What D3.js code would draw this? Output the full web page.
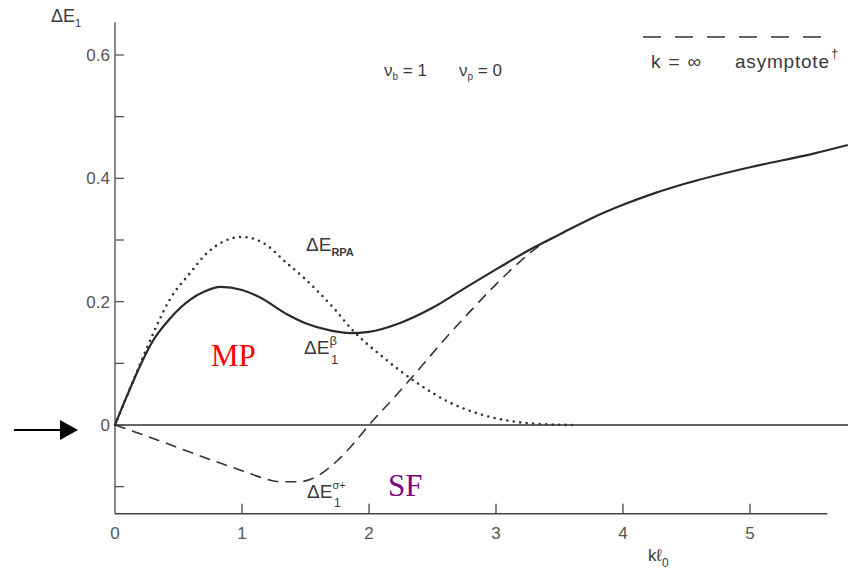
<!DOCTYPE html>
<html>
<head>
<meta charset="utf-8">
<script src="https://cdn.jsdelivr.net/npm/d3@7"></script>
<style>
  html, body { margin: 0; padding: 0; background: #fff; }
  svg { display: block; font-family: "Liberation Sans", "DejaVu Sans", sans-serif; }
</style>
</head>
<body>
<svg id="chart" width="848" height="572"></svg>
<script>
// ---- data ----
const kTotal = [0, 0.1, 0.2, 0.3, 0.43, 0.59, 0.7, 0.83, 1.0, 1.14, 1.35, 1.5, 1.7, 1.85, 2.0, 2.24, 2.5, 2.77, 3.03, 3.29, 3.5, 3.75, 4.0, 4.25, 4.5, 5.0, 5.5, 5.77];
const eTotal = [0, 0.05, 0.097, 0.137, 0.172, 0.203, 0.216, 0.224, 0.219, 0.207, 0.18, 0.165, 0.153, 0.149, 0.151, 0.165, 0.19, 0.224, 0.256, 0.287, 0.309, 0.335, 0.357, 0.376, 0.392, 0.418, 0.44, 0.454];

const kRPA = [0, 0.1, 0.2, 0.3, 0.43, 0.59, 0.72, 0.85, 1.0, 1.17, 1.35, 1.48, 1.72, 1.87, 2.11, 2.38, 2.64, 2.9, 3.16, 3.4, 3.6];
const eRPA = [0, 0.05, 0.1, 0.148, 0.203, 0.246, 0.278, 0.297, 0.305, 0.295, 0.263, 0.24, 0.19, 0.154, 0.11, 0.068, 0.036, 0.016, 0.005, 0.001, 0];

const kSigma = [0, 0.25, 0.5, 0.75, 1.0, 1.15, 1.3, 1.45, 1.6, 1.75, 1.9, 2.0, 2.2, 2.4, 2.6, 2.8, 3.0, 3.2, 3.35, 3.5];
const eSigma = [0, -0.018, -0.037, -0.056, -0.074, -0.085, -0.092, -0.092, -0.082, -0.058, -0.025, 0, 0.045, 0.092, 0.14, 0.185, 0.228, 0.267, 0.292, 0.309];

const xTicks = [0, 1, 2, 3, 4, 5];
const yMajorTicks = [0, 0.2, 0.4, 0.6];
const yMinorTicks = [-0.1, 0.1, 0.3, 0.5];
const yTickLabels = ["0", "0.2", "0.4", "0.6"];

// ---- scales ----
const svg = d3.select("#chart");
const x = d3.scaleLinear().domain([0, 1]).range([115, 242]);
const y = d3.scaleLinear().domain([0, 0.6]).range([425, 55]);

const ink = "#2a2a2a";
const txt = "#3a3a3a";

// axes
const yTop = 0.653, yBottom = -0.144, xEnd = 5.61;
svg.append("line").attr("x1", x(0)).attr("x2", x(0)).attr("y1", y(yTop)).attr("y2", y(yBottom))
  .attr("stroke", "#555").attr("stroke-width", 1.4);
svg.append("line").attr("x1", x(0)).attr("x2", x(xEnd)).attr("y1", y(yBottom)).attr("y2", y(yBottom))
  .attr("stroke", "#444").attr("stroke-width", 1.6);
// zero line
svg.append("line").attr("x1", x(0)).attr("x2", 848).attr("y1", y(0)).attr("y2", y(0))
  .attr("stroke", "#333").attr("stroke-width", 1.5);

// y ticks
svg.selectAll(".ymaj").data(yMajorTicks).enter().append("line")
  .attr("x1", x(0)).attr("x2", x(0) + 9).attr("y1", d => y(d)).attr("y2", d => y(d))
  .attr("stroke", "#555").attr("stroke-width", 1.3);
svg.selectAll(".ymin").data(yMinorTicks).enter().append("line")
  .attr("x1", x(0)).attr("x2", x(0) + 9).attr("y1", d => y(d)).attr("y2", d => y(d))
  .attr("stroke", "#555").attr("stroke-width", 1.3);
svg.selectAll(".ylab").data(yMajorTicks).enter().append("text")
  .attr("x", x(0) - 5).attr("y", d => y(d) + 6).attr("text-anchor", "end")
  .attr("font-size", 17).attr("fill", "#555").text((d, i) => yTickLabels[i]);

// x ticks
svg.selectAll(".xt").data(xTicks.filter(d => d > 0)).enter().append("line")
  .attr("x1", d => x(d)).attr("x2", d => x(d)).attr("y1", y(yBottom)).attr("y2", y(yBottom) - 10)
  .attr("stroke", "#444").attr("stroke-width", 1.3);
svg.selectAll(".xlab").data(xTicks).enter().append("text")
  .attr("x", d => x(d)).attr("y", y(yBottom) + 25).attr("text-anchor", "middle")
  .attr("font-size", 17).attr("fill", "#555").text(d => d);

// curves
const line = d3.line().x(d => x(d[0])).y(d => y(d[1])).curve(d3.curveMonotoneX);
const zip = (a, b) => a.map((v, i) => [v, b[i]]);

svg.append("path").datum(zip(kRPA, eRPA)).attr("d", line)
  .attr("fill", "none").attr("stroke", "#333").attr("stroke-width", 2.6)
  .attr("stroke-linecap", "round").attr("stroke-dasharray", "0,6.5");
svg.append("path").datum(zip(kSigma, eSigma)).attr("d", line)
  .attr("fill", "none").attr("stroke", "#333").attr("stroke-width", 1.6)
  .attr("stroke-dasharray", "11,7");
svg.append("path").datum(zip(kTotal, eTotal)).attr("d", line)
  .attr("fill", "none").attr("stroke", ink).attr("stroke-width", 2.2);

// axis title ΔE1
const t1 = svg.append("text").attr("x", 51).attr("y", 22).attr("font-size", 18).attr("fill", txt);
t1.append("tspan").text("ΔE");
t1.append("tspan").attr("font-size", 11).attr("dy", 5).text("1");

// x title k l0
const t2 = svg.append("text").attr("x", 648).attr("y", 561).attr("font-size", 17).attr("fill", txt);
t2.append("tspan").text("kℓ");
t2.append("tspan").attr("font-size", 12).attr("dy", 6).text("0");

// parameters
const p1 = svg.append("text").attr("x", 384).attr("y", 76).attr("font-size", 17).attr("fill", txt);
p1.append("tspan").text("ν");
p1.append("tspan").attr("font-size", 10).attr("dy", 4).text("b");
p1.append("tspan").attr("dy", -4).text(" = 1");
const p2 = svg.append("text").attr("x", 459).attr("y", 76).attr("font-size", 17).attr("fill", txt);
p2.append("tspan").text("ν");
p2.append("tspan").attr("font-size", 10).attr("dy", 4).text("p");
p2.append("tspan").attr("dy", -4).text(" = 0");

// legend
svg.append("line").attr("x1", 643).attr("x2", 833).attr("y1", 37).attr("y2", 37)
  .attr("stroke", "#333").attr("stroke-width", 1.6).attr("stroke-dasharray", "18,14");
svg.append("text").attr("x", 651).attr("y", 68).attr("font-size", 19).attr("fill", txt)
  .attr("textLength", 50).text("k = ∞");
svg.append("text").attr("x", 735).attr("y", 68).attr("font-size", 19).attr("fill", txt)
  .attr("textLength", 94).text("asymptote");
svg.append("text").attr("x", 831).attr("y", 58).attr("font-size", 13).attr("fill", txt).text("†");

// curve labels
const lr = svg.append("text").attr("x", 306).attr("y", 251).attr("font-size", 19).attr("fill", txt);
lr.append("tspan").text("ΔE");
lr.append("tspan").attr("font-size", 11).attr("font-weight", "bold").attr("dy", 5).text("RPA");

const lb = svg.append("text").attr("x", 304).attr("y", 354).attr("font-size", 19).attr("fill", txt);
lb.append("tspan").text("ΔE");
lb.append("tspan").attr("font-size", 13).attr("dy", -9).text("β");
lb.append("tspan").attr("font-size", 13).attr("x", 331).attr("dy", 19).text("1");

const ls = svg.append("text").attr("x", 307).attr("y", 498).attr("font-size", 19).attr("fill", txt);
ls.append("tspan").text("ΔE");
ls.append("tspan").attr("font-size", 11).attr("dy", -9).text("σ+");
ls.append("tspan").attr("font-size", 12).attr("x", 334).attr("dy", 18).text("1");

// MP / SF
svg.append("text").attr("x", 211).attr("y", 366).style("font-family", "'Liberation Serif', 'Times New Roman', serif")
  .attr("font-size", 31).style("fill", "#ff0000").text("MP");
svg.append("text").attr("x", 388).attr("y", 496).style("font-family", "'Liberation Serif', 'Times New Roman', serif")
  .attr("font-size", 31).style("fill", "#800080").text("SF");

// arrow
svg.append("line").attr("x1", 14).attr("x2", 62).attr("y1", 430).attr("y2", 430)
  .attr("stroke", "#000").attr("stroke-width", 2);
svg.append("path").attr("d", "M60,420 L78,430 L60,440 Z").attr("fill", "#000");
</script>
</body>
</html>
